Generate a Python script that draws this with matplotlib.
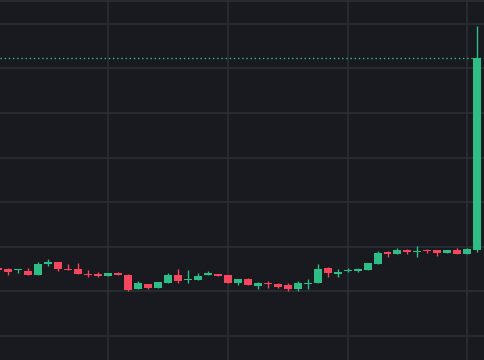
import numpy as np
import matplotlib
matplotlib.use("Agg")
import matplotlib.pyplot as plt

opens = [105.27, 105.11, 104.75, 104.53, 103.63, 106.10, 106.68, 105.11, 104.98, 103.99,
         103.86, 103.41, 104.21, 103.63, 100.49, 101.68, 100.72, 101.97, 103.63, 102.58,
         102.65, 103.63, 103.99, 103.63, 101.84, 102.74, 101.30, 101.97, 101.68, 101.39,
         100.49, 101.75, 101.84, 105.20, 103.99, 104.60, 104.53, 104.75, 106.17, 108.79,
         108.47, 109.30, 108.79, 109.37, 109.24, 108.70, 109.37, 108.41, 109.24]
highs = [105.40, 105.27, 104.98, 105.27, 106.61, 107.29, 106.68, 106.17, 106.32, 104.82,
         104.30, 104.21, 104.37, 103.99, 102.29, 101.68, 102.06, 104.21, 105.11, 104.82,
         104.15, 104.66, 103.99, 103.77, 102.80, 102.96, 102.06, 102.42, 101.97, 101.97,
         102.29, 102.80, 106.10, 105.43, 104.98, 105.20, 105.27, 106.39, 109.08, 109.01,
         109.75, 109.60, 110.20, 109.53, 109.24, 109.24, 109.69, 109.75, 159.53]
lows = [104.60, 103.77, 104.21, 103.77, 103.63, 105.78, 104.66, 104.75, 103.99, 103.18,
        103.32, 103.41, 103.63, 100.04, 100.49, 100.63, 100.72, 101.97, 101.97, 101.84,
        102.65, 103.63, 103.41, 101.84, 101.52, 101.46, 100.49, 100.85, 100.85, 100.18,
        100.18, 100.63, 101.84, 103.18, 103.32, 104.37, 104.37, 104.75, 106.17, 107.67,
        108.47, 108.47, 107.67, 108.63, 108.03, 108.70, 108.47, 108.41, 108.86]
closes = [104.75, 104.37, 104.98, 103.77, 106.17, 106.55, 104.98, 104.75, 103.99, 103.63,
          103.48, 104.21, 103.63, 100.34, 101.84, 100.78, 102.06, 103.63, 102.42, 102.80,
          103.54, 104.21, 103.41, 101.84, 102.80, 101.46, 101.84, 101.68, 101.08, 100.49,
          101.84, 101.97, 105.04, 104.21, 104.44, 104.82, 104.98, 106.39, 108.63, 108.41,
          109.24, 108.86, 109.01, 109.08, 108.63, 109.24, 108.47, 109.60, 152.28]

bg = "#181a20"
grid_c = "#2a2e35"
up_c = "#2ebd85"
down_c = "#f6465d"

fig = plt.figure(figsize=(4.85, 3.6), dpi=100, facecolor=bg)
ax = fig.add_axes([0, 0, 1, 1])
ax.set_facecolor(bg)

o = np.array(opens)
h = np.array(highs)
l = np.array(lows)
c = np.array(closes)
x = np.arange(len(o))
col = np.where(c >= o, up_c, down_c)

# Gitter
for gy in np.arange(90, 170, 10):
    ax.axhline(gy, color=grid_c, lw=1.2, zorder=0)
ax.axhline(165.1, color=grid_c, lw=1.2, zorder=0)
for gx in [11, 23, 35, 47]:
    ax.axvline(gx, color=grid_c, lw=1.2, zorder=0)

# Kerzen
ax.vlines(x, l, h, colors=col, lw=1, zorder=2)
body_h = np.maximum(np.abs(c - o), 0.25)
ax.bar(x, body_h, bottom=np.minimum(o, c), width=0.8, color=col, zorder=3)

# letzte Kurslinie
ax.axhline(c[-1], color=up_c, lw=1, ls=(0, (1, 2)), zorder=1)

ax.set_xlim(0.17, 48.77)
ax.set_ylim(84.64, 165.35)
ax.axis("off")

fig.savefig("out.png", dpi=100, facecolor=bg)
